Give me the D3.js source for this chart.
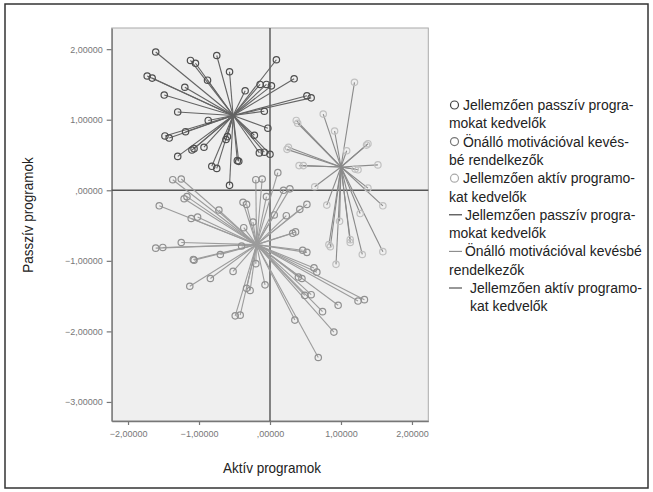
<!DOCTYPE html>
<html>
<head>
<meta charset="utf-8">
<script src="https://cdn.jsdelivr.net/npm/d3@7"></script>
<style>
  body { margin: 0; background: #fff; }
  svg text { font-family: "Liberation Sans", Arial, sans-serif; }
</style>
</head>
<body>
<div id="chart"></div>
<script>
// cluster centres (Aktív, Passzív)
var passzivCentrum = [-0.52, 1.06];
var onalloCentrum = [-0.19, -0.77];
var aktivCentrum = [1.00, 0.33];

// individual cases per cluster
var passzivPontok = [[-1.61,1.96],[-0.75,1.91],[-1.12,1.84],[-1.05,1.80],[0.09,1.85],[-0.57,1.68],[-1.73,1.62],
  [-1.66,1.59],[-0.88,1.56],[0.34,1.58],[-1.20,1.46],[-0.14,1.50],[-0.05,1.50],[0.02,1.48],[-0.35,1.41],
  [-1.49,1.35],[0.52,1.34],[0.58,1.31],[-1.30,1.11],[-0.08,1.12],[-0.87,0.99],[-0.03,0.88],[-1.48,0.77],
  [-1.42,0.74],[-1.19,0.83],[-0.22,0.78],[-0.62,0.72],[-0.60,0.76],[-1.10,0.57],[-1.07,0.59],[-0.93,0.61],
  [-1.30,0.48],[-0.15,0.53],[-0.08,0.54],[0.00,0.51],[-0.82,0.34],[-0.75,0.31],[-0.46,0.42],[-0.44,0.41],
  [-0.57,0.07]];

var onalloPontok = [[-1.37,0.15],[-1.25,0.16],[-0.20,0.15],[-0.11,0.16],[0.11,0.25],[0.19,0.00],[0.28,0.02],
  [-1.56,-0.22],[-1.21,-0.12],[-1.17,-0.09],[-0.38,-0.17],[-0.33,-0.20],[-0.05,-0.09],[0.52,-0.20],[0.42,-0.27],
  [-0.72,-0.28],[0.06,-0.35],[-1.11,-0.40],[-1.02,-0.38],[0.23,-0.36],[-0.24,-0.45],[0.32,-0.61],[0.36,-0.59],
  [-0.37,-0.53],[-1.25,-0.74],[-1.61,-0.82],[-1.51,-0.81],[-0.40,-0.79],[0.46,-0.85],[0.52,-0.88],[-1.08,-0.98],
  [-1.07,-0.99],[-0.70,-0.91],[-0.20,-1.04],[0.62,-1.10],[0.66,-1.16],[-0.52,-1.15],[-0.84,-1.25],[0.40,-1.23],
  [0.45,-1.25],[-1.13,-1.36],[-0.07,-1.34],[-0.33,-1.39],[-0.28,-1.42],[0.49,-1.49],[0.58,-1.48],[0.74,-1.72],
  [0.96,-1.63],[1.24,-1.57],[1.33,-1.55],[-0.49,-1.78],[-0.42,-1.77],[0.35,-1.84],[0.90,-2.01],[0.68,-2.37]];

var aktivPontok = [[1.19,1.53],[0.75,1.08],[0.37,0.99],[0.39,0.95],[0.91,0.84],[1.38,0.66],[1.36,0.64],
  [0.26,0.61],[0.24,0.58],[1.08,0.56],[0.41,0.35],[0.47,0.35],[1.52,0.36],[1.24,0.29],[1.20,0.30],[0.63,0.05],
  [1.38,0.03],[0.80,-0.21],[1.59,-0.22],[1.27,-0.33],[0.98,-0.44],[0.83,-0.77],[0.85,-0.80],[1.13,-0.70],
  [1.13,-0.74],[1.30,-0.91],[1.59,-0.87],[0.93,-1.05]];

var xTicks = [-2, -1, 0, 1, 2];
var yTicks = [2, 1, 0, -1, -2, -3];

var legendKor = [["Jellemzően passzív progra-", "mokat kedvelők"],
                 ["Önálló motivációval kevés-", "bé rendelkezők"],
                 ["Jellemzően aktív programo-", "kat kedvelők"]];
var legendVonal = [["Jellemzően passzív progra-", "mokat kedvelők"],
                   ["Önálló motivációval kevésbé", "rendelkezők"],
                   ["Jellemzően aktív programo-", "kat kedvelők"]];

var W = 653, H = 492;
var svg = d3.select("#chart").append("svg").attr("width", W).attr("height", H);

// condensed look: regular sans squeezed horizontally
var szukit = 0.9;
function szoveg(parent, tx, ty, str, size, anchor, rot) {
  return parent.append("text")
    .attr("transform", "translate(" + tx + "," + ty + ")" + (rot ? " rotate(" + rot + ")" : "") + " scale(" + szukit + ",1)")
    .attr("font-size", size).attr("fill", "#222")
    .attr("text-anchor", anchor || "start").text(str);
}

// outer frame
svg.append("rect").attr("x", 5).attr("y", 4).attr("width", 643).attr("height", 484)
  .attr("fill", "#fff").attr("stroke", "#333").attr("stroke-width", 1.5);

var x = d3.scaleLinear().domain([-2.23, 2.23]).range([111.7, 428.3]);
var y = d3.scaleLinear().domain([-3.27, 2.30]).range([421, 28]);

function fmt(v) {
  var s = d3.format(".5f")(v).replace(".", ",");
  return s.replace(/^0,/, ",");
}

// plot background
svg.append("rect").attr("x", x.range()[0]).attr("y", y.range()[1])
  .attr("width", x.range()[1] - x.range()[0]).attr("height", y.range()[0] - y.range()[1])
  .attr("fill", "#efefef").attr("stroke", "#aaa").attr("stroke-width", 1);

var xAxis = svg.append("g").attr("transform", "translate(0," + y.range()[0] + ")")
  .call(d3.axisBottom(x).tickValues(xTicks).tickFormat(fmt).tickSize(4).tickSizeOuter(0));
var yAxis = svg.append("g").attr("transform", "translate(" + x.range()[0] + ",0)")
  .call(d3.axisLeft(y).tickValues(yTicks).tickFormat(fmt).tickSize(5).tickSizeOuter(0));

[xAxis, yAxis].forEach(function(a) {
  a.select(".domain").attr("stroke", "#777").attr("stroke-width", 1.3);
  a.selectAll(".tick line").attr("stroke", "#777").attr("stroke-width", 1.2);
  a.selectAll(".tick text").attr("fill", "#777").attr("font-size", "9px");
});
xAxis.selectAll(".tick text").attr("dy", "0.95em");
yAxis.selectAll(".tick text").attr("dx", "-1px");

// reference lines at zero
svg.append("line").attr("x1", x(0)).attr("x2", x(0)).attr("y1", y.range()[1]).attr("y2", y.range()[0])
  .attr("stroke", "#555").attr("stroke-width", 1.4);
svg.append("line").attr("x1", x.range()[0]).attr("x2", x.range()[1]).attr("y1", y(0)).attr("y2", y(0))
  .attr("stroke", "#555").attr("stroke-width", 1.4);

var csoportok = [
  { c: onalloCentrum, p: onalloPontok, vonal: "#9c9c9c", kor: "#909090" },
  { c: aktivCentrum, p: aktivPontok, vonal: "#8a8a8a", kor: "#c0c0c0" },
  { c: passzivCentrum, p: passzivPontok, vonal: "#646464", kor: "#4e4e4e" }
];

csoportok.forEach(function(g) {
  var grp = svg.append("g");
  grp.selectAll("line").data(g.p).enter().append("line")
    .attr("x1", x(g.c[0])).attr("y1", y(g.c[1]))
    .attr("x2", function(d) { return x(d[0]); })
    .attr("y2", function(d) { return y(d[1]); })
    .attr("stroke", g.vonal).attr("stroke-width", 1.1);
  grp.selectAll("circle").data(g.p).enter().append("circle")
    .attr("cx", function(d) { return x(d[0]); })
    .attr("cy", function(d) { return y(d[1]); })
    .attr("r", 3.2).attr("fill", "none").attr("stroke", g.kor).attr("stroke-width", 1.2);
});

// axis titles
szoveg(svg, x(0) + 2, 473, "Aktív programok", "15px", "middle");
szoveg(svg, 33, 215, "Passzív programok", "15px", "middle", -90);

// legend
var korSzin = ["#444", "#777", "#aaa"];
var vonalSzin = ["#333", "#888", "#444"];
var lh = 18.3, ly = 110;
var leg = svg.append("g");
legendKor.forEach(function(sor, i) {
  var yy = ly + i * 2 * lh;
  leg.append("circle").attr("cx", 454.5).attr("cy", yy - 5).attr("r", 4)
    .attr("fill", "none").attr("stroke", korSzin[i]).attr("stroke-width", 1.2);
  szoveg(leg, 463, yy, sor[0], "15.5px");
  szoveg(leg, 449, yy + lh, sor[1], "15.5px");
});
legendVonal.forEach(function(sor, i) {
  var yy = ly + (6 + i * 2) * lh;
  leg.append("line").attr("x1", 449).attr("x2", 462).attr("y1", yy - 5).attr("y2", yy - 5)
    .attr("stroke", vonalSzin[i]).attr("stroke-width", 1.1);
  szoveg(leg, i === 2 ? 470 : 465, yy, sor[0], "15.5px");
  szoveg(leg, i === 2 ? 470 : 449, yy + lh, sor[1], "15.5px");
});
</script>
</body>
</html>
